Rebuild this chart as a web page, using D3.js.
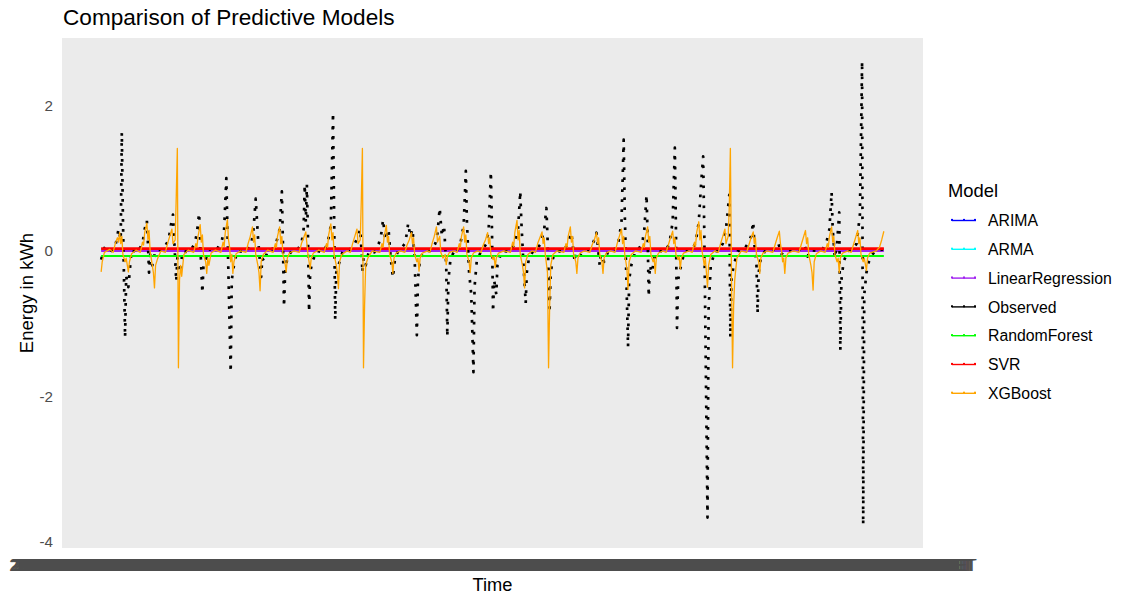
<!DOCTYPE html>
<html>
<head>
<meta charset="utf-8">
<script src="https://cdn.jsdelivr.net/npm/d3@7"></script>
<style>
  body { margin: 0; background: #fff; }
  text { font-family: "Liberation Sans", Arial, sans-serif; }
</style>
</head>
<body>
<div id="chart"></div>
<script>

// hourly series, first hour
var startTime = Date.UTC(2023, 0, 1, 0);
var lastHour = 719;

var models = ['ARIMA', 'ARMA', 'LinearRegression', 'Observed', 'RandomForest', 'SVR', 'XGBoost'];
var modelColors = ['#0000FF', '#00FFFF', '#A020F0', '#000000', '#00FF00', '#FF0000', '#FFA500'];

var yTicks = [2, 0, -2, -4];

// [hour, kWh]
var arima = [[0, 0.02], [360, 0.02], [719, 0.02]];
var arma = [[0, 0.015], [360, 0.015], [719, 0.015]];
var linearRegression = [[0, 0.0], [360, 0.0], [719, 0.0]];
var randomForest = [[0, -0.07], [360, -0.07], [719, -0.07]];
var svr = [[0, 0.03], [360, 0.03], [719, 0.03]];

var observed = [
  [0, -0.12], [3, 0.04], [8, -0.02], [13, 0.06], [16, 0.3], [18, 0.15], [19, 1.63], [20, 0.45], [22, -1.19], [23, -0.35], [25, -0.5], [28, 0.02],
  [33, -0.03], [38, 0.1], [40, 0.3], [42, 0.42], [43, 0.1], [44, -0.3], [45, -0.05], [47, -0.2], [50, 0.01],
  [57, 0.02], [62, 0.15], [64, 0.35], [66, 0.5], [67, 0.2], [69, -0.42], [70, -0.1], [72, -0.3], [75, 0.0],
  [81, -0.02], [86, 0.1], [88, 0.25], [90, 0.52], [91, 0.1], [93, -0.58], [94, -0.2], [96, -0.15], [99, 0.02],
  [106, 0.01], [111, 0.15], [113, 0.3], [115, 1.0], [116, 0.3], [119, -1.67], [120, -0.4], [122, -0.2], [125, 0.0],
  [133, -0.02], [138, 0.1], [140, 0.3], [142, 0.72], [144, 0.2], [147, -0.36], [148, -0.1], [150, -0.15], [153, 0.01],
  [157, 0.02], [161, 0.12], [164, 0.3], [166, 0.82], [167, 0.1], [168, -0.77], [169, -0.3], [171, -0.1], [175, 0.0],
  [180, 0.01], [184, 0.1], [186, 0.3], [187, 0.91], [188, 0.4], [189, 0.91], [190, 0.2], [191, -0.84], [192, -0.3], [194, -0.15], [198, 0.0],
  [204, -0.02], [208, 0.1], [211, 0.35], [213, 1.9], [214, 0.5], [215, -0.95], [216, -0.3], [218, -0.2], [222, 0.0],
  [228, 0.01], [233, 0.1], [236, 0.2], [238, 0.3], [239, 0.05], [240, -0.3], [241, -0.1], [243, -0.2], [246, 0.0],
  [251, -0.02], [255, 0.1], [257, 0.2], [259, 0.43], [261, 0.15], [264, 0.3], [266, -0.1], [268, -0.37], [270, -0.1], [273, 0.0],
  [275, 0.02], [279, 0.1], [281, 0.25], [282, 0.38], [284, 0.2], [286, 0.3], [288, -0.1], [290, -1.16], [291, -0.4], [293, -0.1], [297, 0.0],
  [302, 0.0], [307, 0.1], [309, 0.25], [311, 0.59], [313, 0.2], [315, 0.35], [317, -0.2], [318, -1.18], [319, -0.4], [321, -0.1], [325, 0.01],
  [326, -0.02], [330, 0.1], [333, 0.35], [335, 1.1], [336, 0.4], [338, -0.3], [340, -0.6], [342, -1.67], [343, -0.5], [345, -0.15], [349, 0.0],
  [350, 0.01], [354, 0.1], [356, 0.3], [358, 1.09], [359, 0.3], [360, -0.84], [361, -0.4], [363, -0.6], [364, -0.2], [368, 0.0],
  [376, -0.01], [380, 0.1], [383, 0.3], [385, 0.82], [386, 0.4], [388, -0.2], [390, -0.72], [391, -0.3], [393, -0.1], [397, 0.0],
  [400, 0.02], [404, 0.1], [407, 0.3], [409, 0.59], [410, 0.2], [412, -0.79], [413, -0.3], [415, -0.1], [420, 0.0],
  [424, -0.02], [428, 0.08], [431, 0.2], [432, 0.25], [433, 0.1], [435, -0.15], [436, -0.05], [438, -0.1], [443, 0.0],
  [447, 0.01], [451, 0.08], [453, 0.15], [455, 0.25], [456, 0.1], [458, -0.2], [459, -0.05], [462, -0.15], [466, 0.0],
  [470, -0.01], [475, 0.1], [478, 0.4], [480, 1.53], [481, 0.5], [484, -1.32], [485, -0.4], [487, -0.2], [491, 0.0],
  [493, 0.01], [497, 0.1], [499, 0.3], [501, 0.77], [502, 0.2], [503, -0.63], [504, -0.2], [506, -0.3], [508, -0.1], [512, 0.0],
  [518, -0.01], [522, 0.1], [525, 0.4], [527, 1.42], [528, 0.3], [529, -1.06], [530, -0.4], [532, -0.25], [536, 0.0],
  [542, 0.01], [546, 0.1], [549, 0.4], [551, 0.9], [553, 1.3], [554, 0.3], [555, -1.0], [557, -3.67], [558, -0.8], [560, -0.2], [564, 0.0],
  [567, -0.01], [571, 0.1], [574, 0.3], [577, 0.77], [578, -1.19], [579, -0.4], [581, -0.2], [585, 0.0],
  [590, 0.01], [594, 0.1], [597, 0.2], [599, 0.4], [600, 0.1], [602, -0.2], [603, -0.86], [604, -0.3], [606, -0.1], [610, 0.0],
  [614, -0.01], [619, 0.03], [622, 0.1], [624, 0.02], [625, -0.05], [627, 0.0], [633, 0.01],
  [638, -0.01], [643, 0.03], [646, 0.08], [648, 0.0], [649, -0.08], [651, 0.01], [658, 0.0],
  [662, 0.01], [666, 0.1], [669, 0.3], [671, 0.81], [672, 0.3], [674, -0.1], [676, 0.1], [678, 0.53], [679, -1.37], [680, -0.4], [682, -0.15], [686, 0.0],
  [690, 0.01], [694, 0.1], [697, 0.5], [699, 2.61], [700, -3.77], [701, -0.6], [703, -0.3], [706, -0.1], [711, 0.0], [719, 0.02]
];

var xgboost = [
  [0, -0.29], [1, -0.15], [3, -0.02], [8, 0.02],
  [11, -0.02], [13, 0.1], [15, 0.18], [16, 0.12], [17, 0.25], [18, 0.1], [19, 0.2], [20, -0.05], [22, -0.15], [23, -0.1], [25, -0.29], [26, -0.15], [28, -0.04], [32, 0.01],
  [36, -0.02], [38, 0.12], [39, 0.08], [40, 0.25], [42, 0.38], [43, 0.15], [44, 0.28], [45, 0.0], [47, -0.2], [48, -0.3], [49, -0.51], [50, -0.2], [52, -0.1], [55, 0.0],
  [59, -0.02], [61, 0.1], [63, 0.2], [65, 0.3], [66, 0.1], [68, 0.15], [69, 0.75], [70, 1.41], [71, -1.61], [72, -0.4], [73, -0.2], [74, -0.35], [76, -0.05], [80, 0.01],
  [85, -0.02], [87, 0.1], [88, 0.05], [89, 0.2], [91, 0.36], [92, 0.12], [93, 0.22], [94, -0.05], [96, -0.15], [97, -0.31], [98, -0.1], [99, -0.2], [101, -0.03], [105, 0.01],
  [110, -0.02], [112, 0.12], [113, 0.06], [114, 0.25], [116, 0.43], [117, 0.15], [118, 0.05], [119, -0.15], [120, -0.05], [121, -0.31], [122, -0.15], [124, -0.04], [128, 0.0],
  [133, -0.02], [135, 0.1], [137, 0.2], [139, 0.33], [140, 0.12], [141, 0.22], [142, -0.05], [144, -0.2], [145, -0.3], [146, -0.55], [147, -0.15], [149, -0.05], [153, 0.01],
  [158, -0.02], [160, 0.1], [161, 0.05], [162, 0.2], [164, 0.33], [165, 0.1], [166, 0.2], [167, -0.05], [169, -0.18], [170, -0.29], [171, -0.1], [173, -0.03], [177, 0.0],
  [182, -0.02], [184, 0.1], [186, 0.18], [188, 0.26], [189, 0.1], [190, -0.05], [191, -0.15], [192, -0.25], [193, -0.1], [195, -0.03], [200, 0.01],
  [205, -0.02], [207, 0.1], [208, 0.05], [209, 0.22], [211, 0.37], [212, 0.15], [213, 0.25], [214, -0.05], [216, -0.2], [217, -0.3], [218, -0.52], [219, -0.15], [221, -0.05], [226, 0.0],
  [229, -0.02], [231, 0.1], [233, 0.2], [235, 0.3], [236, 0.1], [238, 0.15], [239, 0.7], [240, 1.41], [241, -1.61], [242, -0.75], [243, -0.2], [245, -0.1], [249, 0.0],
  [256, -0.02], [258, 0.1], [259, 0.05], [260, 0.2], [262, 0.35], [263, 0.12], [264, 0.2], [265, -0.05], [267, -0.15], [268, -0.31], [269, -0.1], [271, -0.03], [275, 0.0],
  [279, -0.02], [281, 0.08], [283, 0.15], [285, 0.25], [286, 0.1], [287, 0.18], [288, -0.05], [290, -0.15], [291, -0.1], [292, -0.28], [293, -0.1], [295, -0.03], [300, 0.0],
  [302, -0.02], [304, 0.1], [306, 0.2], [308, 0.33], [309, 0.12], [311, 0.2], [312, -0.02], [314, -0.1], [316, -0.05], [317, -0.19], [318, -0.08], [320, -0.02], [324, 0.0],
  [327, -0.02], [329, 0.1], [330, 0.05], [331, 0.2], [333, 0.33], [334, 0.12], [335, 0.22], [336, -0.05], [338, -0.15], [339, -0.3], [340, -0.1], [342, -0.03], [346, 0.0],
  [349, -0.02], [351, 0.08], [353, 0.15], [355, 0.25], [356, 0.1], [357, 0.18], [358, -0.05], [360, -0.12], [361, -0.08], [362, -0.23], [363, -0.1], [365, -0.03], [370, 0.0],
  [376, -0.02], [378, 0.12], [379, 0.06], [380, 0.25], [382, 0.42], [383, 0.15], [384, 0.28], [385, -0.05], [387, -0.2], [388, -0.3], [389, -0.51], [390, -0.15], [392, -0.05], [396, 0.0],
  [399, -0.02], [401, 0.1], [403, 0.18], [405, 0.26], [406, 0.1], [407, 0.18], [408, -0.05], [410, -0.3], [411, -1.61], [412, -0.77], [413, -0.2], [415, -0.05], [419, 0.0],
  [425, -0.02], [427, 0.1], [428, 0.05], [429, 0.2], [431, 0.33], [432, 0.12], [433, 0.2], [434, -0.05], [436, -0.15], [437, -0.31], [438, -0.1], [440, -0.03], [444, 0.0],
  [449, -0.02], [451, 0.08], [453, 0.15], [455, 0.25], [456, 0.1], [457, 0.18], [458, -0.05], [460, -0.15], [461, -0.31], [462, -0.1], [464, -0.03], [468, 0.0],
  [472, -0.02], [474, 0.1], [476, 0.2], [478, 0.3], [479, 0.1], [480, 0.2], [481, -0.05], [483, -0.25], [484, -0.53], [485, -0.15], [487, -0.05], [491, 0.0],
  [496, -0.02], [498, 0.1], [499, 0.05], [500, 0.2], [502, 0.33], [503, 0.12], [504, 0.2], [505, -0.05], [507, -0.15], [508, -0.1], [509, -0.31], [510, -0.1], [512, -0.03], [516, 0.0],
  [519, -0.02], [521, 0.08], [523, 0.18], [525, 0.27], [526, 0.1], [527, 0.18], [528, -0.05], [530, -0.12], [531, -0.08], [532, -0.25], [533, -0.1], [535, -0.03], [540, 0.0],
  [543, -0.02], [545, 0.12], [546, 0.06], [547, 0.25], [549, 0.4], [550, 0.15], [551, 0.28], [552, 0.0], [554, -0.2], [555, -0.1], [557, -0.5], [558, -0.2], [560, -0.05], [564, 0.0],
  [567, -0.02], [569, 0.1], [571, 0.2], [573, 0.3], [574, 0.1], [576, 0.2], [577, 0.6], [578, 1.41], [579, -0.3], [580, -1.61], [581, -0.75], [582, -0.4], [584, -0.1], [588, 0.0],
  [593, -0.02], [595, 0.08], [597, 0.18], [599, 0.26], [600, 0.1], [601, 0.18], [602, -0.05], [604, -0.15], [605, -0.31], [606, -0.1], [608, -0.03], [612, 0.0],
  [617, -0.02], [619, 0.08], [621, 0.18], [623, 0.27], [624, 0.1], [625, 0.0], [626, -0.15], [627, -0.1], [628, -0.31], [629, -0.1], [631, -0.03], [636, 0.0],
  [641, -0.02], [643, 0.08], [645, 0.18], [647, 0.28], [648, 0.1], [649, 0.18], [650, -0.05], [652, -0.2], [653, -0.3], [654, -0.54], [655, -0.15], [657, -0.04], [661, 0.0],
  [665, -0.02], [667, 0.1], [668, 0.05], [669, 0.2], [671, 0.33], [672, 0.12], [673, 0.2], [674, -0.05], [676, -0.15], [677, -0.1], [678, -0.3], [679, -0.1], [681, -0.03], [686, 0.0],
  [689, -0.02], [691, 0.08], [693, 0.18], [695, 0.28], [696, 0.1], [697, 0.18], [698, -0.05], [700, -0.15], [701, -0.1], [703, -0.27], [704, -0.1], [706, -0.03], [712, 0.0],
  [715, 0.05], [717, 0.15], [719, 0.27]
];

var seriesByModel = {
  ARIMA: arima,
  ARMA: arma,
  LinearRegression: linearRegression,
  Observed: observed,
  RandomForest: randomForest,
  SVR: svr,
  XGBoost: xgboost
};

var lineWidths = { ARIMA: 2.2, ARMA: 2.2, LinearRegression: 2.4, Observed: 2.7, RandomForest: 2, SVR: 2.6, XGBoost: 1.3 };

function draw() {

  var width = 1121, height = 599;
  var panel = { left: 62, right: 923, top: 38, bottom: 548 };

  var svg = d3.select('#chart')
    .append('svg')
      .attr('width', width)
      .attr('height', height);

  // ggplot-like 5% expansion on both scales
  var allValues = d3.merge(models.map(function (m) { return seriesByModel[m]; }));
  var yExt = d3.extent(allValues, function (d) { return d[1]; });
  var yPad = (yExt[1] - yExt[0]) * 0.05;
  var xPad = lastHour * 0.05;

  var x = d3.scaleLinear()
    .domain([-xPad, lastHour + xPad])
    .range([panel.left, panel.right]);

  var y = d3.scaleLinear()
    .domain([yExt[0] - yPad, yExt[1] + yPad])
    .range([panel.bottom, panel.top]);

  svg.append('rect')
      .attr('x', panel.left)
      .attr('y', panel.top)
      .attr('width', panel.right - panel.left)
      .attr('height', panel.bottom - panel.top)
      .attr('fill', '#EBEBEB');

  var line = d3.line()
      .x(function (d) { return x(d[0]); })
      .y(function (d) { return y(d[1]); });

  svg.append('g')
    .selectAll('path')
      .data(models)
      .enter()
    .append('path')
      .attr('fill', 'none')
      .attr('stroke', function (d, i) { return modelColors[i]; })
      .attr('stroke-width', function (d) { return lineWidths[d]; })
      .attr('stroke-dasharray', function (d) { return d === 'Observed' ? '2.7,7.3' : null; })
      .attr('stroke-linejoin', 'round')
      .attr('d', function (d) { return line(seriesByModel[d]); });

  // y axis
  var yAxis = svg.append('g')
      .attr('transform', 'translate(' + panel.left + ',0)')
      .call(d3.axisLeft(y).tickValues(yTicks).tickSize(0).tickPadding(9)
        .tickFormat(function (d) { return String(d); }));

  yAxis.select('.domain').remove();
  yAxis.selectAll('text')
      .attr('fill', '#4D4D4D')
      .attr('font-size', '15.2px')
      .attr('font-family', '"Liberation Sans", Arial, sans-serif');

  // x axis: one label per hour, they pile up into a solid band
  var timeFormat = d3.utcFormat('%Y-%m-%d %H:%M:%S CET');
  var xAxis = svg.append('g')
      .attr('transform', 'translate(0,' + panel.bottom + ')')
      .call(d3.axisBottom(x).tickValues(d3.range(0, lastHour + 1)).tickSize(0).tickPadding(11.2)
        .tickFormat(function (h) { return timeFormat(new Date(startTime + h * 3600000)); }));

  xAxis.select('.domain').remove();
  xAxis.selectAll('text')
      .attr('fill', '#4D4D4D')
      .attr('font-size', '16px')
      .attr('font-family', '"Liberation Sans", Arial, sans-serif');

  svg.append('text')
      .attr('x', 63)
      .attr('y', 25)
      .attr('font-size', '22.6px')
      .attr('fill', '#000')
      .text('Comparison of Predictive Models');

  svg.append('text')
      .attr('x', (panel.left + panel.right) / 2)
      .attr('y', 591)
      .attr('text-anchor', 'middle')
      .attr('font-size', '18.3px')
      .attr('fill', '#000')
      .text('Time');

  svg.append('text')
      .attr('transform', 'translate(33,' + ((panel.top + panel.bottom) / 2) + ') rotate(-90)')
      .attr('text-anchor', 'middle')
      .attr('font-size', '18.5px')
      .attr('fill', '#000')
      .text('Energy in kWh');

  // legend
  var legend = svg.append('g')
      .attr('transform', 'translate(948,0)');

  legend.append('text')
      .attr('x', 0)
      .attr('y', 197)
      .attr('font-size', '18.4px')
      .attr('fill', '#000')
      .text('Model');

  var item = legend.selectAll('.item')
      .data(models)
      .enter()
    .append('g')
      .attr('class', 'item')
      .attr('transform', function (d, i) { return 'translate(0,' + (220.5 + i * 28.8) + ')'; });

  item.append('line')
      .attr('x1', 4)
      .attr('x2', 28)
      .attr('stroke', function (d, i) { return modelColors[i]; })
      .attr('stroke-width', 1.4);

  item.selectAll('rect')
      .data(function (d, i) { return [4, 16, 27].map(function (p) { return { p: p, c: modelColors[i] }; }); })
      .enter()
    .append('rect')
      .attr('x', function (d) { return d.p - 1; })
      .attr('y', -1.6)
      .attr('width', 2)
      .attr('height', 2)
      .attr('fill', function (d) { return d.c; });

  item.append('text')
      .attr('x', 40)
      .attr('dy', '0.36em')
      .attr('font-size', '15.8px')
      .attr('fill', '#000')
      .text(function (d) { return d; });
}

draw();
</script>
</body>
</html>
